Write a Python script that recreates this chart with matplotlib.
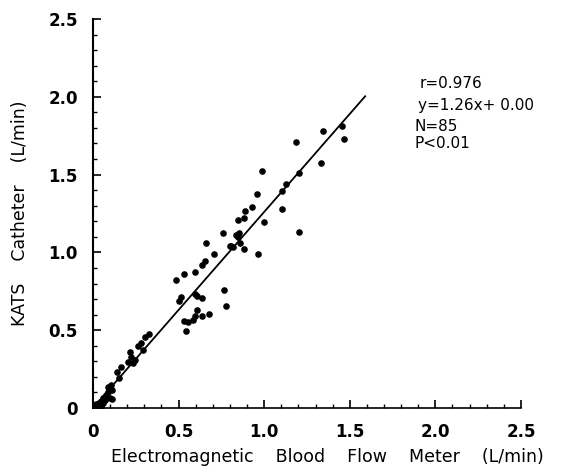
import numpy as np
import matplotlib.pyplot as plt
from matplotlib.ticker import MultipleLocator

# data (L/min)
emf_flow = [
    1.454, 1.468, 1.341, 1.331, 1.185, 1.205, 1.201, 1.129, 1.107, 1.105,
    0.986, 0.957, 0.930, 1.002, 0.887, 0.885, 0.846, 0.760, 0.834, 0.854,
    0.807, 0.820, 0.860, 0.883, 0.850, 0.661, 0.803, 0.963, 0.708, 0.653,
    0.639, 0.596, 0.534, 0.485, 0.766, 0.776, 0.513, 0.505, 0.596, 0.606,
    0.639, 0.608, 0.596, 0.583, 0.637, 0.680, 0.534, 0.544, 0.556, 0.327,
    0.302, 0.283, 0.263, 0.214, 0.224, 0.234, 0.205, 0.166, 0.140, 0.107,
    0.097, 0.088, 0.111, 0.078, 0.058, 0.039, 0.019, 0.090, 0.109, 0.099,
    0.030, 0.045, 0.060, 0.012, 0.070, 0.025, 0.050, 0.150, 0.245, 0.290,
]
kats_flow = [
    1.814, 1.731, 1.782, 1.576, 1.711, 1.510, 1.129, 1.442, 1.395, 1.279,
    1.525, 1.377, 1.292, 1.193, 1.266, 1.223, 1.208, 1.127, 1.110, 1.127,
    1.043, 1.033, 1.058, 1.024, 1.101, 1.058, 1.041, 0.992, 0.992, 0.947,
    0.921, 0.874, 0.859, 0.823, 0.756, 0.658, 0.711, 0.688, 0.735, 0.720,
    0.707, 0.630, 0.591, 0.566, 0.591, 0.606, 0.561, 0.493, 0.555, 0.476,
    0.458, 0.416, 0.398, 0.362, 0.330, 0.291, 0.298, 0.265, 0.229, 0.148,
    0.126, 0.105, 0.058, 0.084, 0.062, 0.040, 0.026, 0.137, 0.116, 0.062,
    0.010, 0.020, 0.030, 0.005, 0.050, 0.015, 0.008, 0.190, 0.310, 0.370,
]

slope = 1.26
intercept = 0.00
line_x = [0.0, 1.59]
tick_vals = [0.0, 0.5, 1.0, 1.5, 2.0, 2.5]
tick_labels = ["0", "0.5", "1.0", "1.5", "2.0", "2.5"]
stats_lines = ["r=0.976", "y=1.26x+ 0.00", "N=85", "P<0.01"]

plt.rcParams["font.family"] = "DejaVu Sans"

fig = plt.figure(figsize=(5.7, 4.69), dpi=100)
ax = fig.add_axes([0.163, 0.130, 0.751, 0.8295])

ax.scatter(emf_flow, kats_flow, s=14, color="black", zorder=3)
lx = np.array(line_x)
ax.plot(lx, slope * lx + intercept, color="black", lw=1.3)

ax.set_xlim(0, 2.5)
ax.set_ylim(0, 2.5)
ax.spines["top"].set_visible(False)
ax.spines["right"].set_visible(False)
ax.spines["left"].set_linewidth(1.5)
ax.spines["bottom"].set_linewidth(1.2)

ax.set_xticks(tick_vals, tick_labels, fontweight="bold")
ax.set_yticks(tick_vals, tick_labels, fontweight="bold")
ax.xaxis.set_minor_locator(MultipleLocator(0.1))
ax.yaxis.set_minor_locator(MultipleLocator(0.1))
ax.tick_params(which="major", direction="in", length=6, width=1.2,
               labelsize=12, pad=11)
ax.tick_params(which="minor", direction="in", length=3.2, width=1.0)

ax.set_xlabel("Electromagnetic    Blood    Flow    Meter    (L/min)",
              fontsize=12.5)
ax.xaxis.set_label_coords(0.547, -0.103)
ax.set_ylabel("KATS    Catheter    (L/min)", fontsize=12.5, labelpad=14)

y_pos = [0.821, 0.776, 0.731, 0.695]
x_pos = [0.736, 0.733, 0.727, 0.727]
for txt, xp, yp in zip(stats_lines, x_pos, y_pos):
    fig.text(xp, yp, txt, fontsize=11, va="center", ha="left")

fig.savefig("out.png", dpi=100)
